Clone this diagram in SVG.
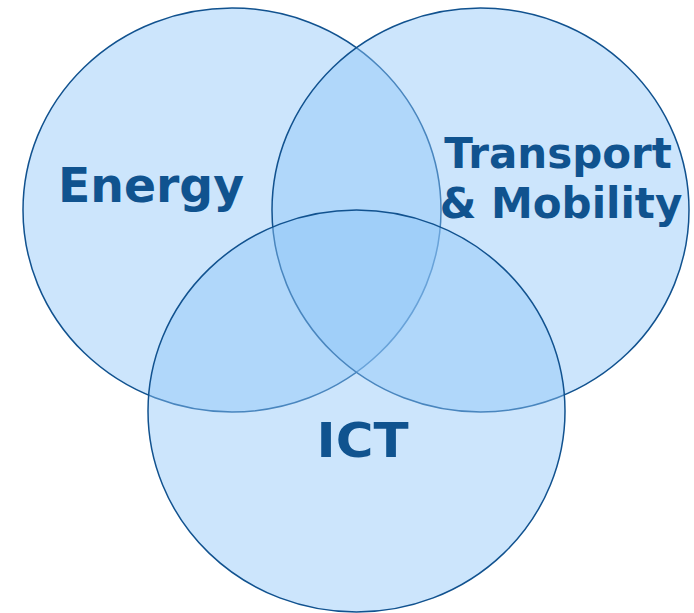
<svg xmlns="http://www.w3.org/2000/svg" width="694" height="613" viewBox="0 0 694 613">
<style>
.c{fill:#8ec5f8;fill-opacity:0.45;stroke:#11528f;stroke-width:1.5}
.t{font-family:"DejaVu Sans",Verdana,sans-serif;font-weight:bold;font-size:48px;fill:#10538f}
.s{font-size:42px}
</style>
<rect width="694" height="613" fill="#ffffff"/>
<g id="energy">
<ellipse class="c" cx="232" cy="210" rx="209" ry="202"/>
</g>
<g id="transport">
<ellipse class="c" cx="480.5" cy="210" rx="208.5" ry="202"/>
</g>
<g id="ict">
<ellipse class="c" cx="356.5" cy="411" rx="208.5" ry="201"/>
</g>
<g id="connectors"></g>
<g id="labels">
<text class="t" x="151" y="202" text-anchor="middle" textLength="186" lengthAdjust="spacingAndGlyphs">Energy</text>
<text class="t s" x="558" y="167.5" text-anchor="middle">Transport</text>
<text class="t s" x="561" y="218" text-anchor="middle">&amp; Mobility</text>
<text class="t" x="362.5" y="457" text-anchor="middle" textLength="92" lengthAdjust="spacingAndGlyphs">ICT</text>
</g>
</svg>
